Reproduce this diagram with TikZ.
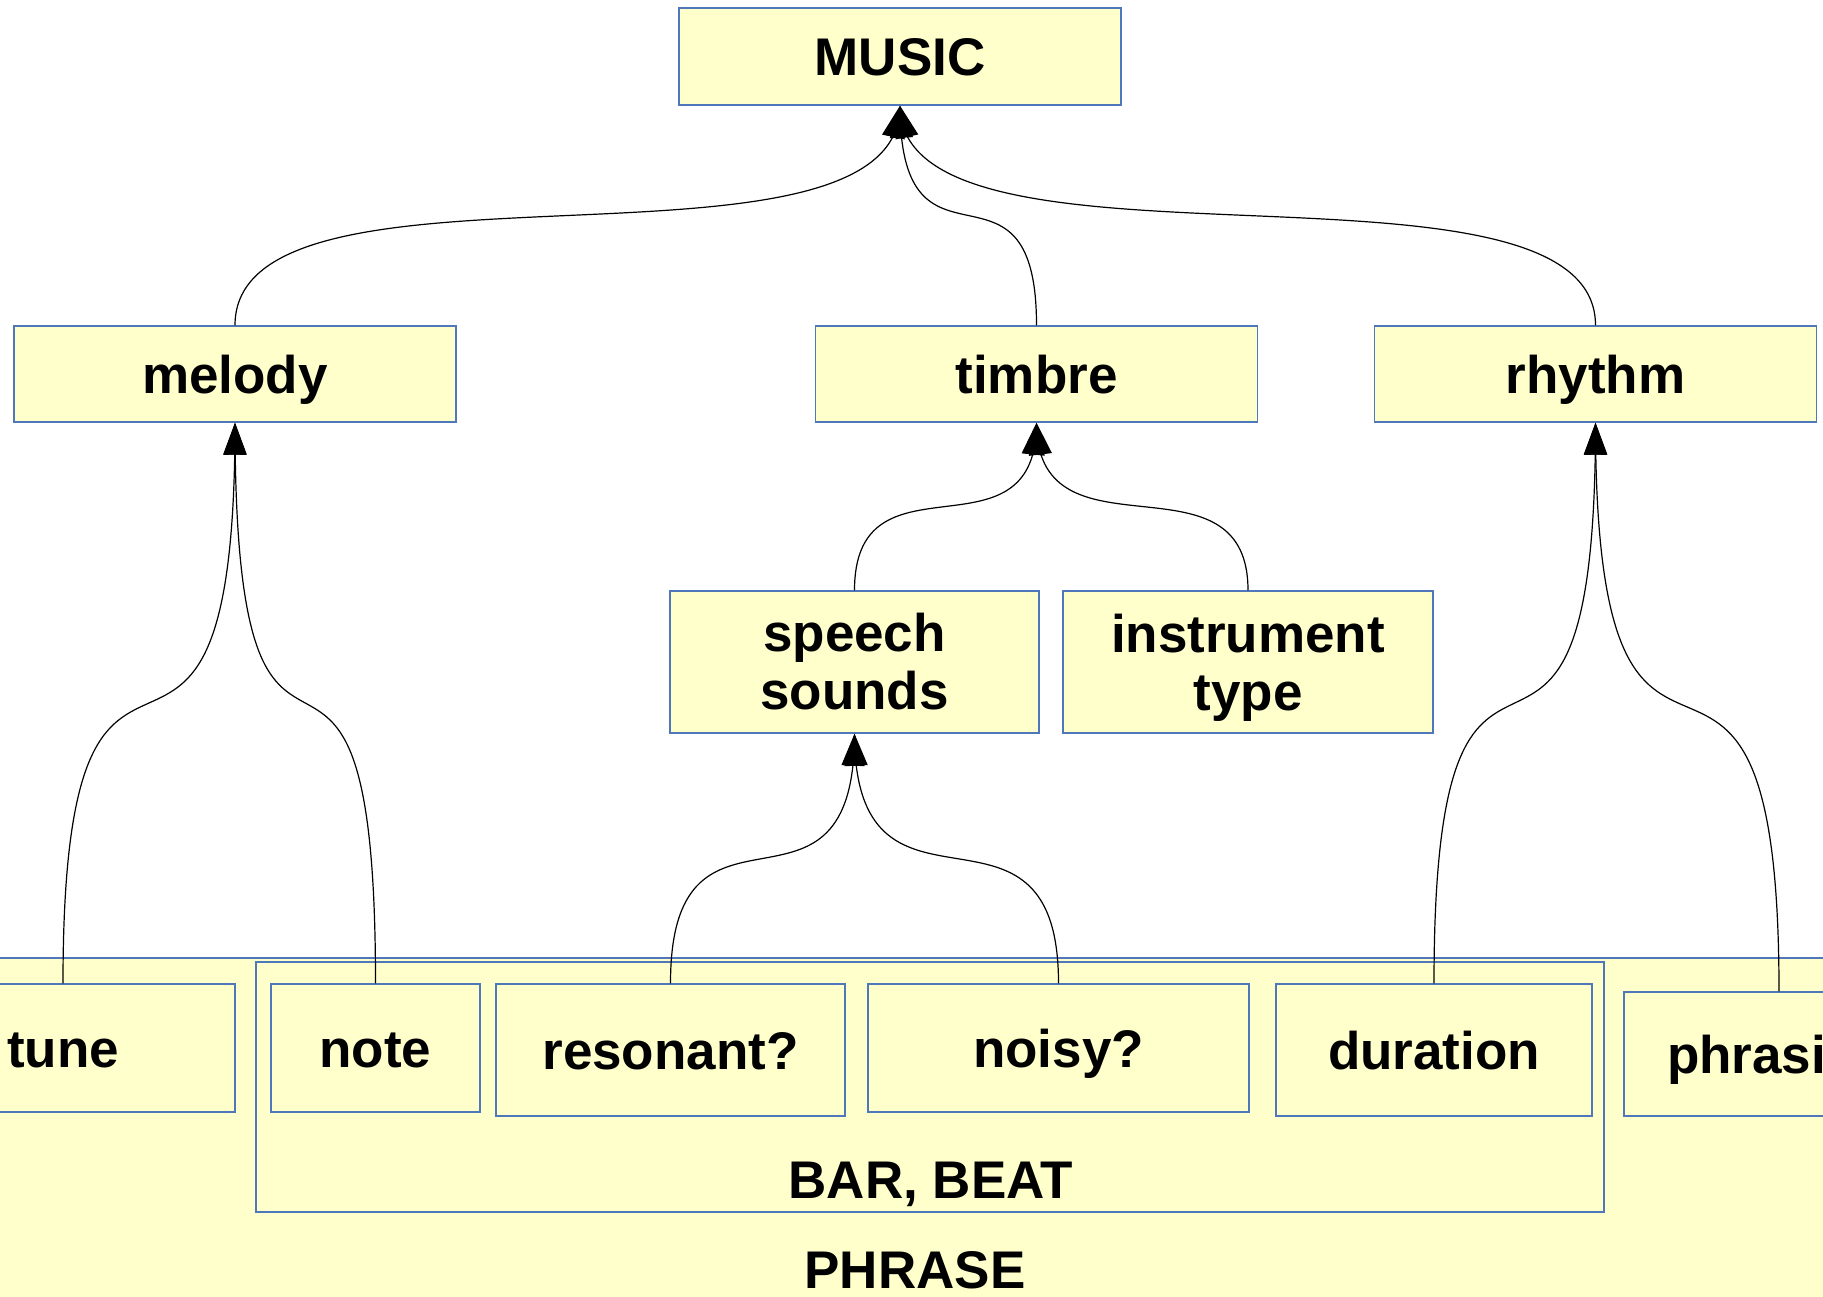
\documentclass[tikz,border=0pt]{standalone}
\usepackage{fontspec}
\setmainfont{Liberation Sans}
\usetikzlibrary{arrows.meta,bending}
\definecolor{boxfill}{RGB}{255,255,204}
\definecolor{boxline}{RGB}{79,120,188}
\begin{document}
\begin{tikzpicture}[x=1pt,y=-1pt,
  frame/.style={draw=boxline, fill=boxfill, line width=1.4pt, inner sep=0pt},
  box/.style={frame, font=\bfseries\fontsize{53pt}{58pt}\selectfont,
              text height=38pt, text depth=0pt},
  box2/.style={frame, font=\bfseries\fontsize{53pt}{58pt}\selectfont, align=center},
  lbl/.style={anchor=base, inner sep=0pt, font=\bfseries\fontsize{53pt}{58pt}\selectfont},
  link/.style={draw=black, line width=1.2pt,
               -{Triangle[length=32pt,width=23pt,flex]}}]
\useasboundingbox (0,0) rectangle (1823,1296);
\fill[white] (0,0) rectangle (1823,1296);
\clip (0,0) rectangle (1823,1296);

% outer band and the bar/beat group
\node[frame, minimum width=2100pt, minimum height=420pt] (phrase) at (915,1168) {};
\node[lbl] (phraselbl) at (915,1288) {PHRASE};
\node[frame, minimum width=1348pt, minimum height=250pt] (bar) at (930,1087) {};
\node[lbl] (barlbl) at (931,1198) {BAR, BEAT};

% top level
\node[box, minimum width=442pt, minimum height=97pt] (music) at (900,56.5) {MUSIC};

% second level
\node[box, minimum width=442pt, minimum height=96pt] (melody) at (235,374) {melody};
\node[box, minimum width=442pt, minimum height=96pt] (timbre) at (1036.5,374) {timbre};
\node[box, minimum width=442pt, minimum height=96pt] (rhythm) at (1595.5,374) {rhythm};

% timbre components
\node[box2, minimum width=369pt, minimum height=142pt] (speech) at (854.5,662) {speech\\sounds};
\node[box2, minimum width=370pt, minimum height=142pt] (instrument) at (1248,662) {instrument\\\smash{type}};

% bottom row
\node[box, minimum width=344pt, minimum height=128pt] (tune) at (63,1048) {tune};
\node[box, minimum width=209pt, minimum height=128pt] (note) at (375.5,1048) {note};
\node[box, minimum width=349pt, minimum height=132pt] (resonant) at (670.5,1050) {resonant?};
\node[box, minimum width=381pt, minimum height=128pt] (noisy) at (1058.5,1048) {noisy?};
\node[box, minimum width=316pt, minimum height=132pt] (duration) at (1434,1050) {duration};
\node[box, minimum width=310pt, minimum height=124pt] (phrasing) at (1779,1054) {phrasing};

% connectors
\draw[link] (melody.north) .. controls +(0,-190) and +(0,190) .. (music.south);
\draw[link] (timbre.north) .. controls +(0,-190) and +(0,190) .. (music.south);
\draw[link] (rhythm.north) .. controls +(0,-190) and +(0,190) .. (music.south);

\draw[link] (tune.north) .. controls +(0,-483) and +(0,483) .. (melody.south);
\draw[link] (note.north) .. controls +(0,-483) and +(0,483) .. (melody.south);

\draw[link] (speech.north) .. controls +(0,-145) and +(0,145) .. (timbre.south);
\draw[link] (instrument.north) .. controls +(0,-145) and +(0,145) .. (timbre.south);

\draw[link] (resonant.north) .. controls +(0,-216) and +(0,216) .. (speech.south);
\draw[link] (noisy.north) .. controls +(0,-216) and +(0,216) .. (speech.south);

\draw[link] (duration.north) .. controls +(0,-483) and +(0,483) .. (rhythm.south);
\draw[link] (phrasing.north) .. controls +(0,-490) and +(0,490) .. (rhythm.south);
\end{tikzpicture}
\end{document}
